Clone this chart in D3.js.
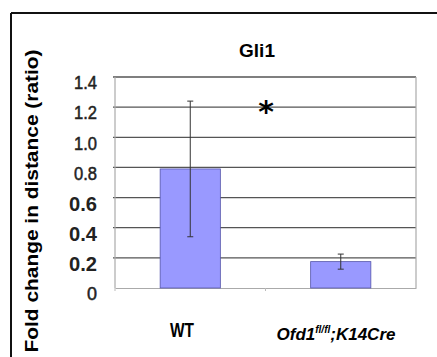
<!DOCTYPE html>
<html>
<head>
<meta charset="utf-8">
<script src="https://cdn.jsdelivr.net/npm/d3@7"></script>
<style>
  body { margin: 0; background: #fff; }
  svg text { font-family: Arial, "Liberation Sans", sans-serif; }
</style>
</head>
<body>
<svg id="svg"></svg>
<script>
// data
const categories = ["WT", "Ofd1"];
const means = [0.79, 0.175];
const errs = [0.45, 0.05];
const yTicks = [0, 0.2, 0.4, 0.6, 0.8, 1.0, 1.2, 1.4];
const yTickLabels = ["0", "0.2", "0.4", "0.6", "0.8", "1.0", "1.2", "1.4"];

const W = 437, H = 357;
const svg = d3.select("#svg").attr("width", W).attr("height", H);

// plot area
const pLeft = 115, pRight = 416, pTop = 77, pBottom = 288;

const x = d3.scaleBand().domain(categories).range([pLeft, pRight]).paddingInner(0.6).paddingOuter(0.3);
const xb = d3.scaleBand().domain(categories).range([pLeft, pRight]);
const y = d3.scaleLinear().domain([0, 1.4]).range([pBottom, pTop]);

// outer frame (only top + left visible in the crop)
svg.append("line").attr("x1", 11).attr("x2", W).attr("y1", 13).attr("y2", 13)
    .attr("stroke", "#111").attr("stroke-width", 2);
svg.append("line").attr("x1", 11).attr("x2", 11).attr("y1", 13).attr("y2", H)
    .attr("stroke", "#111").attr("stroke-width", 2);

// gridlines
svg.append("g").selectAll("line")
    .data(yTicks.filter(d => d > 0))
    .join("line")
    .attr("x1", pLeft - 2).attr("x2", pRight)
    .attr("y1", d => y(d)).attr("y2", d => y(d))
    .attr("stroke", "#555").attr("stroke-width", 1.3);

// plot border right + left (light grey)
svg.append("line").attr("x1", pRight).attr("x2", pRight).attr("y1", pTop).attr("y2", pBottom)
    .attr("stroke", "#aaa").attr("stroke-width", 1.2);
svg.append("line").attr("x1", pLeft).attr("x2", pLeft).attr("y1", pTop).attr("y2", pBottom)
    .attr("stroke", "#aaa").attr("stroke-width", 1.2);

const xAxis = svg.append("g")
    .attr("transform", `translate(0,${pBottom})`)
    .call(d3.axisBottom(xb).tickSize(0).tickFormat(""));
xAxis.select(".domain").attr("stroke", "#aaa").attr("stroke-width", 1.2);
// category separator ticks
svg.append("g").selectAll("line")
    .data([pLeft, xb.bandwidth() + pLeft])
    .join("line")
    .attr("x1", d => d).attr("x2", d => d)
    .attr("y1", pBottom).attr("y2", pBottom + 3)
    .attr("stroke", "#bbb");

// bars
svg.append("g").selectAll("rect")
    .data(categories)
    .join("rect")
    .attr("x", d => x(d))
    .attr("width", x.bandwidth())
    .attr("y", (d, i) => y(means[i]))
    .attr("height", (d, i) => y(0) - y(means[i]))
    .attr("fill", "#9999ff")
    .attr("stroke", "#5555aa")
    .attr("stroke-width", 0.8);

// error bars
const eb = svg.append("g").attr("stroke", "#333").attr("stroke-width", 1);
categories.forEach((c, i) => {
    const cx = x(c) + x.bandwidth() / 2;
    eb.append("line").attr("x1", cx).attr("x2", cx)
        .attr("y1", y(means[i] + errs[i])).attr("y2", y(means[i] - errs[i]));
    eb.append("line").attr("x1", cx - 3).attr("x2", cx + 3)
        .attr("y1", y(means[i] + errs[i])).attr("y2", y(means[i] + errs[i]));
    eb.append("line").attr("x1", cx - 3).attr("x2", cx + 3)
        .attr("y1", y(means[i] - errs[i])).attr("y2", y(means[i] - errs[i]));
});

// y tick labels: condensed look, the 0.2-0.6 ones are bolder/bigger
const big = i => i >= 1 && i <= 3;
svg.append("g").selectAll("text")
    .data(yTicks)
    .join("text")
    .attr("x", 97)
    .attr("y", d => y(d))
    .attr("dy", "0.35em")
    .attr("transform", "translate(0,6)")
    .attr("text-anchor", "end")
    .attr("textLength", (d, i) => i === 0 ? 10 : (big(i) ? 28 : 23))
    .attr("lengthAdjust", "spacingAndGlyphs")
    .style("font-weight", (d, i) => big(i) ? "bold" : "normal")
    .style("font-size", (d, i) => big(i) ? "20px" : "18px")
    .style("stroke", (d, i) => big(i) ? "none" : "#222")
    .style("stroke-width", 0.5)
    .attr("fill", "#222")
    .text((d, i) => yTickLabels[i]);

// title
svg.append("text")
    .attr("x", 257).attr("y", 57)
    .attr("text-anchor", "middle")
    .style("font-weight", "bold").style("font-size", "19px")
    .text("Gli1");

// significance star
svg.append("text")
    .attr("x", 266).attr("y", 122)
    .attr("text-anchor", "middle")
    .style("font-size", "30px").style("font-weight", "bold").style("font-family", "DejaVu Sans")
    .text("*");

// y axis title
svg.append("text")
    .attr("transform", "translate(38,201) rotate(-90)")
    .attr("text-anchor", "middle")
    .attr("textLength", 303).attr("lengthAdjust", "spacingAndGlyphs")
    .style("font-weight", "bold").style("font-size", "18px")
    .text("Fold change in distance (ratio)");

// category labels
svg.append("text")
    .attr("x", 182).attr("y", 337)
    .attr("text-anchor", "middle")
    .style("font-weight", "bold").style("font-size", "20px")
    .attr("textLength", 24).attr("lengthAdjust", "spacingAndGlyphs")
    .text("WT");

const lab = svg.append("text")
    .attr("x", 336).attr("y", 340)
    .attr("text-anchor", "middle")
    .style("font-weight", "bold").style("font-style", "italic").style("font-size", "17px");
lab.append("tspan").text("Ofd1");
lab.append("tspan").attr("dy", -7).style("font-size", "10px").text("fl/fl");
lab.append("tspan").attr("dy", 7).text(";K14Cre");
</script>
</body>
</html>
